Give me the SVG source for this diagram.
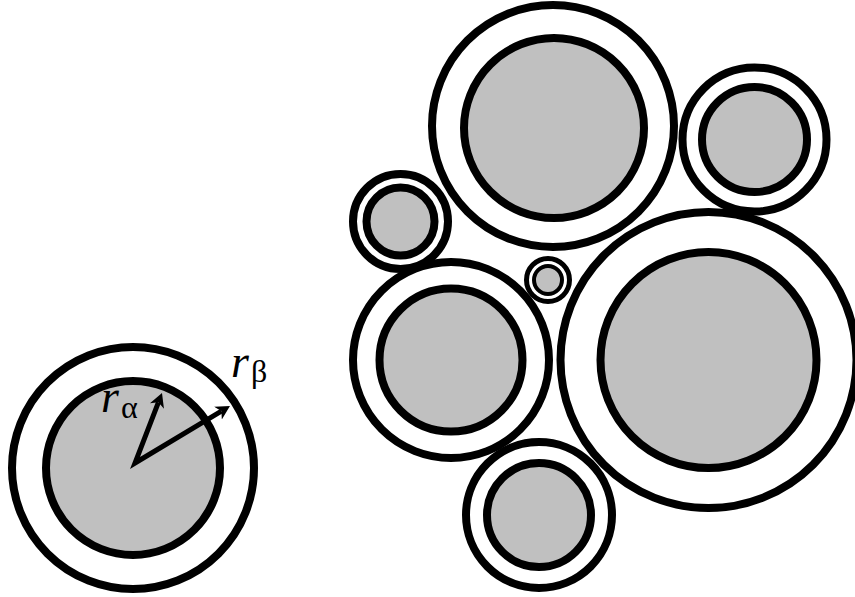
<svg xmlns="http://www.w3.org/2000/svg" width="855" height="597" viewBox="0 0 855 597">
  <defs>
    <style>
      .outer { fill: none; stroke: #000; stroke-width: 8; }
      .inner { fill: #c0c0c0; stroke: #000; stroke-width: 8; }
      .lbl { font-family: "Liberation Serif", "DejaVu Serif", serif; fill: #000; }
      .arrow { fill: none; stroke: #000; stroke-width: 5; stroke-linejoin: miter; }
    </style>
    <marker id="head" markerUnits="userSpaceOnUse" markerWidth="16" markerHeight="18" viewBox="0 -9 16 18" refX="4" refY="0" orient="auto-start-reverse">
      <path d="M14,0 L0,-7.5 L4,0 L0,7.5 Z" fill="#000"/>
    </marker>
  </defs>
  <rect width="855" height="597" fill="#fff"/>

  <g id="legend">
    <circle class="outer" cx="133" cy="468" r="121"/>
    <circle class="inner" cx="133" cy="468" r="87"/>
  </g>

  <g id="c-top">
    <circle class="outer" cx="553" cy="126" r="121"/>
    <circle class="inner" cx="554" cy="128" r="90"/>
  </g>
  <g id="c-topright">
    <circle class="outer" cx="754.5" cy="139.5" r="72"/>
    <circle class="inner" cx="754.5" cy="139.5" r="52.5"/>
  </g>
  <g id="c-smallleft">
    <circle class="outer" cx="400.5" cy="221.5" r="47.5"/>
    <circle class="inner" cx="400.5" cy="221.5" r="34"/>
  </g>
  <g id="c-tiny">
    <circle cx="548" cy="280" r="21.5" fill="none" stroke="#000" stroke-width="5"/>
    <circle cx="548" cy="280" r="14" fill="#c0c0c0" stroke="#000" stroke-width="4"/>
  </g>
  <g id="c-midleft">
    <circle class="outer" cx="451" cy="360" r="98"/>
    <circle class="inner" cx="451" cy="360" r="71.5"/>
  </g>
  <g id="c-bigright">
    <circle class="outer" cx="708.5" cy="360" r="148"/>
    <circle class="inner" cx="708.5" cy="360" r="108"/>
  </g>
  <g id="c-bottom">
    <circle class="outer" cx="539" cy="515" r="73"/>
    <circle class="inner" cx="539" cy="515" r="52"/>
  </g>

  <g id="connectors">
    <path class="arrow" d="M158.4,402.3 L135,463 L221.4,411.1" marker-start="url(#head)" marker-end="url(#head)"/>
  </g>

  <g id="labels">
    <text class="lbl" x="101" y="412" font-size="46" font-style="italic">r</text>
    <text class="lbl" x="121" y="418" font-size="32">α</text>
    <text class="lbl" x="231" y="377" font-size="46" font-style="italic">r</text>
    <text class="lbl" x="251" y="382" font-size="32">β</text>
  </g>
</svg>
